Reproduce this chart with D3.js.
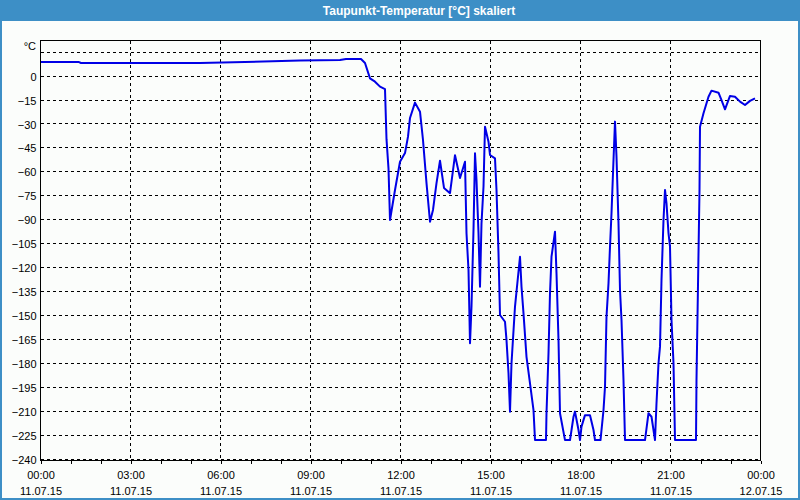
<!DOCTYPE html>
<html>
<head>
<meta charset="utf-8">
<script src="https://cdn.jsdelivr.net/npm/d3@7"></script>
<style>
  html, body { margin: 0; padding: 0; background: #3d8fc6; }
  svg { display: block; }
  text { font-family: "Liberation Sans", Arial, sans-serif; }
</style>
</head>
<body>
<svg id="chart" width="800" height="500"></svg>
<script>
// ---- data ----
const title = "Taupunkt-Temperatur [°C] skaliert";
const unitLabel = "°C";
const dateStart = "11.07.15";
const dateEnd = "12.07.15";
const times = ["00:00","01:17","01:21","05:19","08:39","09:59","10:11","10:41","10:49","10:59","11:09","11:19","11:29","11:32","11:36","11:39","11:49","11:59","12:09","12:15","12:19","12:29","12:39","12:45","12:52","12:59","13:05","13:12","13:19","13:27","13:39","13:49","13:59","14:09","14:12","14:16","14:19","14:22","14:26","14:29","14:32","14:36","14:39","14:42","14:46","14:49","14:56","14:59","15:09","15:12","15:16","15:19","15:29","15:32","15:36","15:39","15:42","15:49","15:59","16:02","16:06","16:12","16:19","16:26","16:29","16:51","16:52","16:56","16:59","17:02","17:09","17:12","17:16","17:19","17:29","17:39","17:46","17:49","17:56","17:59","18:02","18:09","18:19","18:26","18:29","18:40","18:46","18:49","18:52","18:56","18:59","19:02","19:06","19:09","19:12","19:16","19:19","19:22","19:26","19:29","20:09","20:16","20:22","20:29","20:32","20:36","20:39","20:42","20:46","20:49","20:52","20:56","20:59","21:02","21:06","21:09","21:51","21:52","21:56","21:58","21:59","22:06","22:16","22:22","22:36","22:42","22:49","22:59","23:09","23:19","23:29","23:39","23:49"];
const values = [9.1,9.1,8.5,8.5,10.0,10.4,11.0,11.0,8.5,-1.1,-3.2,-6.3,-7.9,-39.2,-57.6,-89.8,-71,-53.3,-47.9,-37.6,-25.9,-16.3,-22,-39.7,-66.7,-90.9,-83.5,-66.7,-52.7,-69.7,-73,-49.2,-63.5,-53.3,-98.1,-121.1,-167,-144,-96,-48,-64.8,-98.1,-131.6,-91.9,-69,-31.4,-40.8,-49.1,-51.2,-71,-110.7,-149.3,-153.5,-165,-185.8,-209.8,-179.5,-144,-112.8,-131.6,-148.3,-175.5,-192.1,-208.8,-227.6,-227.6,-210.8,-173.4,-135.7,-112.8,-97.1,-123.2,-165,-210.8,-227.6,-227.6,-213,-209.8,-221.3,-227.6,-219.2,-212,-212,-221.3,-227.6,-227.6,-208.8,-194.2,-150.3,-129.5,-106.5,-85.6,-52.2,-28.2,-50.2,-91.9,-133.6,-152.4,-190,-227.6,-227.6,-210.8,-213,-227.6,-204.6,-179.5,-169.1,-127.4,-89.8,-71,-79.4,-98.1,-106.5,-152.4,-179.5,-227.6,-227.6,-190,-110.7,-71,-31.4,-23,-12.6,-8.8,-10.1,-14.7,-20.5,-12.1,-12.6,-15.7,-17.8,-15.2,-13.6];
const yTicks = [0,-15,-30,-45,-60,-75,-90,-105,-120,-135,-150,-165,-180,-195,-210,-225,-240];
const yGrid = [15,0,-15,-30,-45,-60,-75,-90,-105,-120,-135,-150,-165,-180,-195,-210,-225,-240];
const xTickHours = [0,3,6,9,12,15,18,21,24];

// ---- layout ----
const W = 800, H = 500;
const plot = { left: 40.5, right: 760.5, top: 40.5, bottom: 460.5 };
const svg = d3.select("#chart");

const parseDT = d3.timeParse("%d.%m.%y %H:%M");
const t0 = parseDT(dateStart + " 00:00");
const t1 = parseDT(dateEnd + " 00:00");
const data = times.map((t, i) => ({ t: parseDT(dateStart + " " + t), v: values[i] }));

const x = d3.scaleTime().domain([t0, t1]).range([plot.left, plot.right]);
const y = d3.scaleLinear().domain([-240.4, 22.6]).range([plot.bottom, plot.top]);

// frame
svg.append("rect").attr("x", 0).attr("y", 0).attr("width", W).attr("height", H).attr("fill", "#3d8fc6");
svg.append("rect").attr("x", 2).attr("y", 21).attr("width", W - 4).attr("height", H - 23).attr("fill", "#fbfdfb");
svg.append("text").attr("x", 419).attr("y", 15).attr("text-anchor", "middle")
  .attr("fill", "#ffffff").attr("font-size", "12px").attr("font-weight", "bold").text(title);

// gridlines
const g = svg.append("g").attr("shape-rendering", "crispEdges");
g.selectAll("line.hg").data(yGrid).join("line").attr("class", "hg")
  .attr("x1", plot.left).attr("x2", plot.right)
  .attr("y1", d => Math.round(y(d)) - 0.5).attr("y2", d => Math.round(y(d)) - 0.5)
  .attr("stroke", "#000").attr("stroke-width", 1).attr("stroke-dasharray", "3,3");
const vHours = xTickHours.filter(h => h > 0 && h < 24);
g.selectAll("line.vg").data(vHours).join("line").attr("class", "vg")
  .attr("x1", h => x(d3.timeHour.offset(t0, h))).attr("x2", h => x(d3.timeHour.offset(t0, h)))
  .attr("y1", plot.top).attr("y2", plot.bottom)
  .attr("stroke", "#000").attr("stroke-width", 1).attr("stroke-dasharray", "3,3");

// line
const line = d3.line().x(d => x(d.t)).y(d => y(d.v));
svg.append("path").datum(data).attr("d", line).attr("fill", "none")
  .attr("stroke", "#0000e6").attr("stroke-width", 2).attr("stroke-linejoin", "round");

// plot border
svg.append("rect").attr("x", plot.left).attr("y", plot.top)
  .attr("width", plot.right - plot.left).attr("height", plot.bottom - plot.top)
  .attr("fill", "none").attr("stroke", "#000").attr("stroke-width", 1).attr("shape-rendering", "crispEdges");

// y axis
const yAxis = d3.axisLeft(y).tickValues(yTicks).tickSize(0).tickPadding(4).tickFormat(d3.format("d"));
const ya = svg.append("g").attr("transform", `translate(${plot.left},0)`).call(yAxis);
ya.select(".domain").remove();
ya.selectAll("text").attr("font-size", "11px").attr("fill", "#000")
  .attr("font-family", "'Liberation Sans', Arial, sans-serif");
svg.append("text").attr("x", 36).attr("y", 50).attr("text-anchor", "end")
  .attr("font-size", "11px").attr("fill", "#000").text(unitLabel);

// x axis minor ticks (hourly)
const xMinor = d3.axisBottom(x).ticks(d3.timeHour.every(1)).tickSize(3).tickFormat("");
const xm = svg.append("g").attr("transform", `translate(0,${plot.bottom})`).call(xMinor);
xm.select(".domain").remove();
xm.selectAll("line").attr("shape-rendering", "crispEdges");

// x axis labels
const xLabelTimes = xTickHours.map(h => d3.timeHour.offset(t0, h));
const xAxis = d3.axisBottom(x).tickValues(xLabelTimes).tickSize(0).tickPadding(0).tickFormat("");
const xa = svg.append("g").attr("transform", `translate(0,${plot.bottom})`).call(xAxis);
xa.select(".domain").remove();
const fmtT = d3.timeFormat("%H:%M"), fmtD = d3.timeFormat("%d.%m.%y");
xa.selectAll(".tick").each(function(d) {
  const tk = d3.select(this);
  tk.select("text").remove();
  tk.append("text").attr("y", 18).attr("text-anchor", "middle").attr("font-size", "11px")
    .attr("fill", "#000").attr("font-family", "'Liberation Sans', Arial, sans-serif").text(fmtT(d));
  tk.append("text").attr("y", 34).attr("text-anchor", "middle").attr("font-size", "11px")
    .attr("fill", "#000").attr("font-family", "'Liberation Sans', Arial, sans-serif").text(fmtD(d));
});
</script>
</body>
</html>
